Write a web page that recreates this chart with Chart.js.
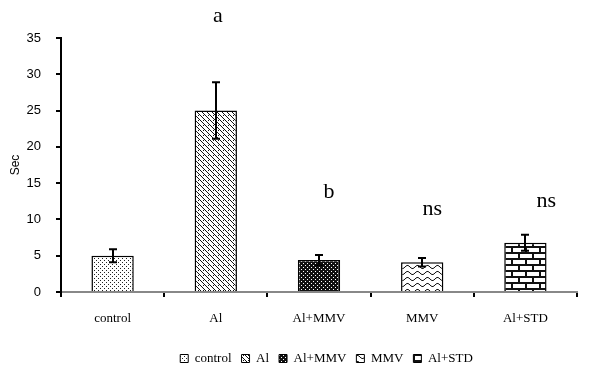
<!DOCTYPE html>
<html>
<head>
<meta charset="utf-8">
<script src="https://cdn.jsdelivr.net/npm/chart.js@4/dist/chart.umd.min.js"></script>
<style>
  html, body { margin: 0; padding: 0; background: #fff; }
  #wrap { width: 600px; height: 375px; }
</style>
</head>
<body>
<div id="wrap"><canvas id="graficoSec"></canvas></div>
<script>
// valores
const grupos = ['control', 'Al', 'Al+MMV', 'MMV', 'Al+STD']
const medias = [5.0, 25.0, 4.4, 4.1, 6.8]
const erros = [0.9, 3.9, 0.7, 0.6, 1.1]
const letras = ['', 'a', 'b', 'ns', 'ns']
const letrasAltura = [null, 37.2, 12.9, 10.6, 11.7]
const yTicks = [0, 5, 10, 15, 20, 25, 30, 35]

// deslocamento horizontal das letras (px)
const letrasDx = [0, 2, 10, 10, 21]

function criarPadrao(tipo) {
    let c = document.createElement('canvas')
    let ctx = c.getContext('2d')
    if (tipo == 'pontos') {
        c.width = 4; c.height = 4
        ctx.fillStyle = '#fff'; ctx.fillRect(0, 0, 4, 4)
        ctx.fillStyle = '#222'
        ctx.fillRect(0, 0, 1, 1)
        ctx.fillRect(2, 2, 1, 1)
    } else if (tipo == 'diagonal') {
        c.width = 5; c.height = 5
        ctx.fillStyle = '#fff'; ctx.fillRect(0, 0, 5, 5)
        ctx.fillStyle = '#111'
        for (let i = 0; i < 5; i++) ctx.fillRect(i, i, 1, 1)
        ctx.fillRect(3, 0, 1, 1)
    } else if (tipo == 'xadrez') {
        c.width = 4; c.height = 4
        ctx.fillStyle = '#111'; ctx.fillRect(0, 0, 4, 4)
        ctx.fillStyle = '#fff'
        ctx.fillRect(1, 1, 1, 1)
        ctx.fillRect(3, 3, 1, 1)
    } else if (tipo == 'ondas') {
        c.width = 10; c.height = 6
        ctx.fillStyle = '#fff'; ctx.fillRect(0, 0, 10, 6)
        ctx.strokeStyle = '#111'; ctx.lineWidth = 1
        ctx.beginPath()
        for (let x = 0; x <= 10; x++) {
            let y = 3 + 1.6 * Math.sin(x / 10 * 2 * Math.PI)
            x == 0 ? ctx.moveTo(x, y) : ctx.lineTo(x, y)
        }
        ctx.stroke()
    } else if (tipo == 'tijolos') {
        c.width = 14; c.height = 12
        ctx.fillStyle = '#fff'; ctx.fillRect(0, 0, 14, 12)
        ctx.fillStyle = '#111'
        ctx.fillRect(0, 0, 14, 2)
        ctx.fillRect(0, 6, 14, 2)
        ctx.fillRect(0, 0, 2, 6)
        ctx.fillRect(7, 6, 2, 6)
    }
    return ctx.createPattern(c, 'repeat')
}

const padroes = ['pontos', 'diagonal', 'xadrez', 'ondas', 'tijolos'].map(criarPadrao)

const barrasErro = {
    id: 'barrasErro',
    afterDatasetsDraw(chart) {
        let ctx = chart.ctx
        let y = chart.scales.y
        let meta = chart.getDatasetMeta(0)
        ctx.save()
        ctx.strokeStyle = '#000'
        ctx.lineWidth = 2
        meta.data.forEach((bar, i) => {
            let x = Math.round(bar.x)
            let topo = y.getPixelForValue(medias[i] + erros[i])
            let base = y.getPixelForValue(medias[i] - erros[i])
            ctx.beginPath()
            ctx.moveTo(x, topo); ctx.lineTo(x, base)
            ctx.moveTo(x - 4, topo); ctx.lineTo(x + 4, topo)
            ctx.moveTo(x - 4, base); ctx.lineTo(x + 4, base)
            ctx.stroke()
        })
        ctx.fillStyle = '#000'
        ctx.font = '22px "Liberation Serif", serif'
        ctx.textAlign = 'center'
        ctx.textBaseline = 'alphabetic'
        meta.data.forEach((bar, i) => {
            if (!letras[i]) return
            ctx.fillText(letras[i], bar.x + letrasDx[i], y.getPixelForValue(letrasAltura[i]))
        })
        ctx.restore()
    }
}

// empurra a legenda um pouco para a direita, como no original
const deslocaLegenda = {
    id: 'deslocaLegenda',
    afterLayout(chart) {
        if (chart.legend) {
            chart.legend.left += 38
            chart.legend.right += 38
        }
    }
}

new Chart(document.getElementById('graficoSec'), {
    type: 'bar',
    data: {
        labels: grupos,
        datasets: [{
            label: 'Sec',
            data: medias,
            backgroundColor: padroes,
            borderColor: '#000',
            borderWidth: 1.5,
            categoryPercentage: 1,
            barPercentage: 0.41
        }]
    },
    options: {
        responsive: true,
        maintainAspectRatio: false,
        animation: false,
        layout: {
            padding: { left: 0, right: 23, top: 38, bottom: 0 }
        },
        plugins: {
            legend: {
                display: true,
                position: 'bottom',
                labels: {
                    boxWidth: 8,
                    boxHeight: 8,
                    padding: 10,
                    color: '#000',
                    font: { family: '"Liberation Serif", serif', size: 13 },
                    generateLabels: function (chart) {
                        return grupos.map((g, i) => ({
                            text: g,
                            fillStyle: padroes[i],
                            strokeStyle: '#000',
                            lineWidth: 1,
                            hidden: false,
                            index: i
                        }))
                    }
                }
            },
            tooltip: { enabled: false }
        },
        scales: {
            x: {
                grid: {
                    offset: true,
                    drawOnChartArea: false,
                    drawTicks: true,
                    tickLength: 5,
                    color: '#000',
                    lineWidth: 2
                },
                border: { color: '#888', width: 2 },
                ticks: {
                    color: '#000',
                    padding: 14,
                    font: { family: '"Liberation Serif", serif', size: 13 }
                },
                afterFit: function (scale) { scale.height = 50 }
            },
            y: {
                min: 0,
                max: 35,
                afterBuildTicks: function (scale) {
                    scale.ticks = yTicks.map(v => ({ value: v }))
                },
                grid: {
                    drawOnChartArea: false,
                    drawTicks: true,
                    tickLength: 5,
                    color: '#000',
                    lineWidth: 2
                },
                border: { color: '#000', width: 2 },
                ticks: {
                    color: '#000',
                    padding: 15,
                    font: { family: '"Liberation Sans", sans-serif', size: 13 }
                },
                title: {
                    display: true,
                    text: 'Sec',
                    color: '#000',
                    padding: { top: 8, bottom: 0 },
                    font: { family: '"Liberation Sans", sans-serif', size: 12 }
                },
                afterFit: function (scale) { scale.width = 61 }
            }
        }
    },
    plugins: [barrasErro, deslocaLegenda]
})
</script>
</body>
</html>
